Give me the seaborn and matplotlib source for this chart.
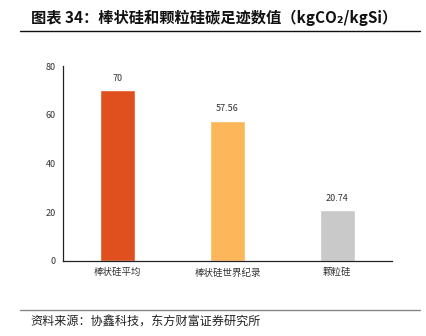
import matplotlib
matplotlib.use("Agg")
import matplotlib.pyplot as plt
import seaborn as sns
import pandas as pd

categories = ["棒状硅平均", "棒状硅世界纪录", "颗粒硅"]
values = [70, 57.56, 20.74]
value_labels = ["70", "57.56", "20.74"]
colors = ["#E0501E", "#FDB75A", "#C9C9C9"]
yticks = [0, 20, 40, 60, 80]

sns.set_theme(style="white")
plt.rcParams['font.family'] = ['Noto Sans CJK SC', 'DejaVu Sans']

df = pd.DataFrame({"cat": categories, "val": values})

fig = plt.figure(figsize=(4.27, 3.36), dpi=100)
ax = fig.add_axes([63/427, 1-261/336, (392-63)/427, (261-66)/336])
sns.barplot(data=df, x="cat", y="val", hue="cat", palette=colors, legend=False,
            width=0.32, ax=ax, saturation=1)
ax.set_xlim(-0.5, 2.5)
ax.set_ylim(0, 80)
ax.set_yticks(yticks)
ax.set_xlabel("")
ax.set_ylabel("")
ax.set_xticks([0.5, 1.5, 2.5])
ax.set_xticklabels([])
ax.set_xticks([0, 1, 2], minor=True)
ax.set_xticklabels(categories, minor=True, fontsize=6.8, color="#333333")
ax.tick_params(axis="x", which="major", length=3, width=0.8, direction="out", color="#333333")
ax.tick_params(axis="x", which="minor", length=0, pad=5)
ax.tick_params(axis="y", length=3, width=0.8, direction="out", labelsize=6.5, labelcolor="#333333", color="#333333", pad=2)
for s in ["top", "right"]:
    ax.spines[s].set_visible(False)
for s in ["left", "bottom"]:
    ax.spines[s].set_color("#222222")
    ax.spines[s].set_linewidth(0.9)

for i, (v, lab) in enumerate(zip(values, value_labels)):
    ax.text(i, v + 3, lab, ha="center", va="bottom", fontsize=6.5, color="#333333")

fig.text(31/427, 1-18/336, "图表 34：棒状硅和颗粒硅碳足迹数值（kgCO₂/kgSi）", fontsize=11,
         fontweight="bold", va="center", ha="left", color="#111111")
fig.add_artist(plt.Line2D([20/427, 420/427], [1-31/336, 1-31/336], color="#111111", linewidth=1.0))
fig.add_artist(plt.Line2D([20/427, 420/427], [1-310/336, 1-310/336], color="#888888", linewidth=1.0))
fig.text(30/427, 1-322/336, "资料来源：协鑫科技，东方财富证券研究所", fontsize=8.7, va="center", ha="left", color="#222222")

fig.savefig("out.png", dpi=100)
